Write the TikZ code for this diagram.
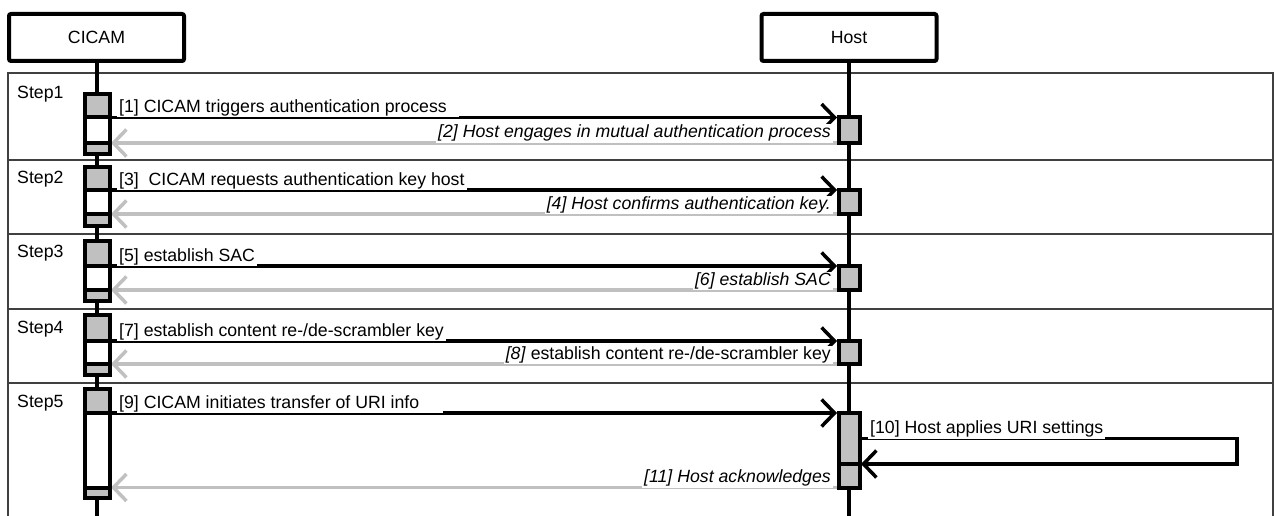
\documentclass[tikz,border=0pt]{standalone}
\usepackage{fontspec}
\setmainfont{Liberation Sans}
\usetikzlibrary{arrows.meta,calc}
\pgfdeclarelayer{lanes}
\pgfdeclarelayer{wires}
\pgfsetlayers{lanes,wires,main}
\definecolor{actgray}{HTML}{C0C0C0}
\definecolor{replygray}{HTML}{C0C0C0}
\definecolor{framegray}{HTML}{404040}
\newcommand\lblsize{\fontsize{17.7}{21.2}\selectfont}
\begin{document}
\begin{tikzpicture}[x=1pt,y=-1pt,
  header/.style={draw, line width=4pt, rounded corners=2pt, fill=white,
    minimum width=175pt, minimum height=47pt, inner sep=0pt, font=\lblsize},
  lifeline/.style={line width=4pt},
  sep/.style={draw=framegray, line width=1.4pt},
  cact/.style={draw, line width=4pt, minimum width=25pt, inner sep=0pt, outer sep=0pt},
  hact/.style={draw, line width=4pt, minimum width=21pt, fill=actgray, inner sep=0pt, outer sep=0pt},
  call/.style={line width=3.2pt, -{Straight Barb[length=13pt,width=27pt,line width=3.5pt]}, shorten >=1.5pt},
  reply/.style={call, draw=replygray},
  lbl/.style={fill=white, inner xsep=2pt, inner ysep=0pt, text height=13.5pt, text depth=5pt, font=\lblsize},
  ilbl/.style={lbl, font=\lblsize\itshape},
  steplbl/.style={anchor=base west, inner sep=0pt, font=\lblsize},
]
\useasboundingbox (0,0) rectangle (1277,516);
\coordinate (bot) at (0,520);

% participants
\node[header] (cicam) at (96.5,37.5) {CICAM};
\node[header] (host) at (849,37.5) {Host};

% step frames and lifelines
\begin{pgfonlayer}{lanes}
  \draw[sep] (8,520) -- (8,73) -- (1273,73) -- (1273,520);
  \draw[sep] (8,160) -- (1273,160);
  \draw[sep] (8,234) -- (1273,234);
  \draw[sep] (8,309) -- (1273,309);
  \draw[sep] (8,383) -- (1273,383);
  \draw[lifeline] (cicam.south) -- (cicam.south |- bot);
  \draw[lifeline] (host.south) -- (host.south |- bot);
\end{pgfonlayer}

\node[steplbl] (s1) at (17,99) {Step1};
\node[steplbl] (s2) at (17,183) {Step2};
\node[steplbl] (s3) at (17,257) {Step3};
\node[steplbl] (s4) at (17,333) {Step4};
\node[steplbl] (s5) at (17,407) {Step5};

% CICAM activations: outer bar, grey head, grey tail
\node[cact, fill=white,   minimum height=60pt]   (c1)  at (97,124) {};
\node[cact, fill=actgray, minimum height=23.5pt] (c1g) at (97,105.75) {};
\node[cact, fill=actgray, minimum height=11pt]   (c1s) at (97,148.5) {};

\node[cact, fill=white,   minimum height=59pt]   (c2)  at (97,196.5) {};
\node[cact, fill=actgray, minimum height=23pt]   (c2g) at (97,178.5) {};
\node[cact, fill=actgray, minimum height=12pt]   (c2s) at (97,220) {};

\node[cact, fill=white,   minimum height=60pt]   (c3)  at (97,271) {};
\node[cact, fill=actgray, minimum height=25pt]   (c3g) at (97,253.5) {};
\node[cact, fill=actgray, minimum height=11pt]   (c3s) at (97,295.5) {};

\node[cact, fill=white,   minimum height=60pt]   (c4)  at (97,345) {};
\node[cact, fill=actgray, minimum height=26pt]   (c4g) at (97,328) {};
\node[cact, fill=actgray, minimum height=11pt]   (c4s) at (97,369.5) {};

\node[cact, fill=white,   minimum height=109pt]  (c5)  at (97,443.5) {};
\node[cact, fill=actgray, minimum height=24pt]   (c5g) at (97,401) {};
\node[cact, fill=actgray, minimum height=10.5pt] (c5s) at (97,492.75) {};

% Host activations
\node[hact, minimum height=25.5pt] (h1)  at (849,130.25) {};
\node[hact, minimum height=24pt]   (h2)  at (849,202) {};
\node[hact, minimum height=24pt]   (h3)  at (849,278) {};
\node[hact, minimum height=23pt]   (h4)  at (849,352.5) {};
\node[hact, minimum height=51pt]   (h5)  at (849,438.5) {};
\node[hact, minimum height=23.5pt] (h5b) at (849,475.75) {};

% messages
\begin{pgfonlayer}{wires}
  \draw[call]  (c1g.south east) -- (h1.north west);
  \draw[reply] (h1.south west)  -- (c1s.north east);
  \draw[call]  (c2g.south east) -- (h2.north west);
  \draw[reply] (h2.south west)  -- (c2s.north east);
  \draw[call]  (c3g.south east) -- (h3.north west);
  \draw[reply] (h3.south west)  -- (c3s.north east);
  \draw[call]  (c4g.south east) -- (h4.north west);
  \draw[reply] (h4.south west)  -- (c4s.north east);
  \draw[call]  (c5g.south east) -- (h5.north west);
  \draw[call]  (h5.east) -- ++(377.5,0) |- (h5b.north east);
  \draw[reply] (h5b.south west) -- (c5s.north east);
\end{pgfonlayer}

% message labels
\node[lbl,  anchor=base west] (m1)  at ($(c1g.south east)+(7.5,-5)$) {[1] CICAM triggers authentication process\hspace*{10pt}};
\node[ilbl, anchor=base east] (m2)  at ($(h1.south west)+(-5.5,-5)$) {[2] Host engages in mutual authentication process};
\node[lbl,  anchor=base west] (m3)  at ($(c2g.south east)+(7.5,-5)$) {[3]\ \ CICAM requests authentication key host};
\node[ilbl, anchor=base east] (m4)  at ($(h2.south west)+(-5.5,-5)$) {[4] Host confirms authentication key.};
\node[lbl,  anchor=base west] (m5)  at ($(c3g.south east)+(7.5,-5)$) {[5] establish SAC};
\node[ilbl, anchor=base east] (m6)  at ($(h3.south west)+(-5.5,-5)$) {[6] establish SAC};
\node[lbl,  anchor=base west] (m7)  at ($(c4g.south east)+(7.5,-5)$) {[7] establish content re-/de-scrambler key};
\node[lbl,  anchor=base east] (m8)  at ($(h4.south west)+(-5.5,-5)$) {\textit{[8]} establish content re-/de-scrambler key};
\node[lbl,  anchor=base west] (m9)  at ($(c5g.south east)+(7.5,-5)$) {[9] CICAM initiates transfer of URI info\hspace*{22pt}};
\node[lbl,  anchor=base west] (m10) at ($(h5.east)+(8.5,-5)$) {[10] Host applies URI settings};
\node[ilbl, anchor=base east] (m11) at ($(h5b.south west)+(-5.5,-5)$) {[11] Host acknowledges};
\end{tikzpicture}
\end{document}
